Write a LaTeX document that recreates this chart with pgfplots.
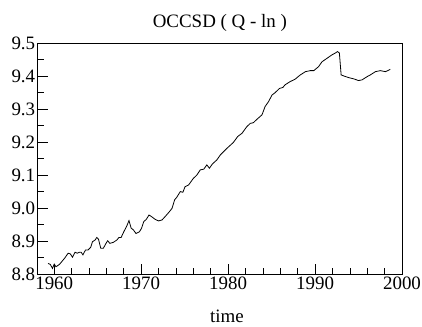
\documentclass[border=0pt]{standalone}
\usepackage{pgfplots}
\pgfplotsset{compat=1.18}
\usepackage{fontspec}
\setmainfont{Liberation Serif}
\begin{document}
\begin{tikzpicture}
\begin{axis}[
  name=ax, at={(0,0)}, anchor=south west,
  scale only axis, width=364.3bp, height=230.7bp,
  xmin=1958.1, xmax=2000, ymin=8.8, ymax=9.5,
  xtick={1960,1970,...,2000}, minor x tick num=4,
  ytick={8.8,8.9,...,9.5}, minor y tick num=1,
  tick align=inside, tick pos=left,
  major tick length=10bp, minor tick length=6bp,
  every tick/.style={black, line width=0.6bp},
  axis line style={line width=0.8bp},
  /pgf/number format/assume math mode=true,
  xticklabel style={font=\fontsize{19}{20}\selectfont, /pgf/number format/1000 sep={}, yshift=1bp},
  yticklabel style={font=\fontsize{19}{20}\selectfont, /pgf/number format/fixed, /pgf/number format/fixed zerofill, /pgf/number format/precision=1, xshift=1bp},
  clip=false,
]
\addplot[black, line width=0.8bp] table {
x y
1959.3 8.832
1959.55 8.829
1959.8 8.817
1960.0 8.830
1960.2 8.822
1960.6 8.829
1960.85 8.837
1961.2 8.848
1961.6 8.863
1961.85 8.861
1962.1 8.851
1962.4 8.866
1962.65 8.863
1962.9 8.866
1963.1 8.866
1963.3 8.858
1963.6 8.873
1963.9 8.873
1964.2 8.881
1964.4 8.898
1964.7 8.903
1964.9 8.911
1965.1 8.905
1965.35 8.878
1965.65 8.878
1966.0 8.895
1966.15 8.901
1966.4 8.893
1966.8 8.896
1967.2 8.903
1967.45 8.911
1967.7 8.911
1968.0 8.928
1968.35 8.946
1968.6 8.962
1968.85 8.939
1969.1 8.934
1969.4 8.923
1969.8 8.928
1970.05 8.939
1970.3 8.959
1970.6 8.966
1970.9 8.979
1971.2 8.974
1971.6 8.966
1972.0 8.961
1972.4 8.964
1972.75 8.974
1973.15 8.986
1973.55 8.999
1973.85 9.025
1974.1 9.033
1974.5 9.050
1974.8 9.048
1975.05 9.065
1975.45 9.070
1976.0 9.090
1976.4 9.100
1976.8 9.116
1977.2 9.118
1977.55 9.131
1977.85 9.121
1978.2 9.134
1978.7 9.146
1979.1 9.161
1979.85 9.181
1980.6 9.199
1981.1 9.217
1981.6 9.227
1982.15 9.247
1982.55 9.257
1982.9 9.259
1983.3 9.269
1983.9 9.283
1984.25 9.308
1984.65 9.323
1985.05 9.343
1985.4 9.350
1985.9 9.363
1986.3 9.366
1986.55 9.374
1987.15 9.384
1987.7 9.391
1988.3 9.404
1988.9 9.414
1989.45 9.417
1989.85 9.417
1990.4 9.429
1990.8 9.444
1991.35 9.454
1991.95 9.465
1992.3 9.470
1992.6 9.475
1992.8 9.470
1993.0 9.404
1993.3 9.401
1993.85 9.396
1994.45 9.392
1995.0 9.387
1995.4 9.389
1996.0 9.399
1996.35 9.404
1996.95 9.414
1997.5 9.417
1997.9 9.415
1998.1 9.414
1998.35 9.417
1998.65 9.421
};
\node[anchor=base, font=\fontsize{19}{20}\selectfont] at ([yshift=16bp]rel axis cs:0.5,1) {OCCSD ( Q - ln )};
\node[anchor=base, font=\fontsize{19}{20}\selectfont] at ([xshift=7bp,yshift=-49bp]rel axis cs:0.5,0) {time};
\end{axis}
\pgfresetboundingbox
\path ([shift={(-37.7bp,-53bp)}]ax.south west) rectangle ([shift={(20bp,43.3bp)}]ax.north east);
\end{tikzpicture}
\end{document}
